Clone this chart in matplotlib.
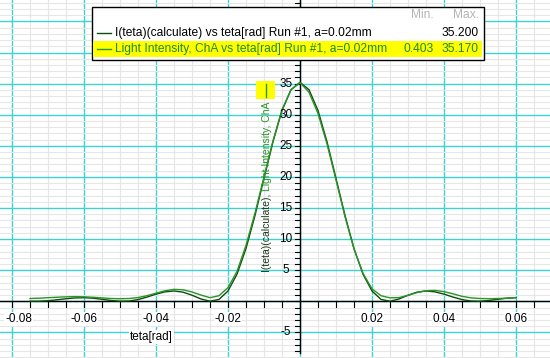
import numpy as np
import matplotlib
matplotlib.use("Agg")
import matplotlib.pyplot as plt
from matplotlib.patches import Rectangle
from matplotlib.lines import Line2D
from matplotlib.ticker import MultipleLocator

plt.rcParams['font.family'] = ['Liberation Sans', 'DejaVu Sans']

# ---------------- data ----------------
theta = np.round(np.arange(-30, 25) * 0.0025, 4)
calc_I = [0.01, 0.01, 0.09, 0.24, 0.41, 0.54, 0.58, 0.50, 0.33, 0.13,
          0.01, 0.04, 0.28, 0.68, 1.15, 1.52, 1.66, 1.47, 0.98, 0.37,
          0.01, 0.30, 1.66, 4.36, 8.49, 13.80, 19.77, 25.65, 30.67, 34.02,
          35.20,
          34.02, 30.67, 25.65, 19.77, 13.80, 8.49, 4.36, 1.66, 0.30,
          0.01, 0.37, 0.98, 1.47, 1.66, 1.52, 1.15, 0.68, 0.28, 0.04,
          0.01, 0.13, 0.33, 0.50, 0.58]
meas_I = [0.45, 0.50, 0.58, 0.65, 0.72, 0.75, 0.72, 0.65, 0.55, 0.45,
          0.41, 0.45, 0.60, 0.90, 1.30, 1.70, 1.92, 1.85, 1.50, 1.00,
          0.58, 0.90, 2.20, 4.80, 9.00, 14.20, 20.00, 25.80, 30.80, 34.00,
          35.17,
          33.60, 30.20, 25.30, 19.50, 13.60, 8.40, 4.50, 2.00, 0.90,
          0.55, 0.60, 0.95, 1.40, 1.70, 1.75, 1.55, 1.20, 0.80, 0.55,
          0.45, 0.42, 0.45, 0.50, 0.60]
xticks = [-0.08, -0.06, -0.04, -0.02, 0.02, 0.04, 0.06]
xtick_labels = ['-0.08', '-0.06', '-0.04', '-0.02', '0.02', '0.04', '0.06']
yticks = [-5, 5, 10, 15, 20, 25, 30, 35]
ytick_labels = ['-5', '5', '10', '15', '20', '25', '30', '35']
legend_names = ['I(teta)(calculate) vs teta[rad] Run #1, a=0.02mm',
                'Light Intensity, ChA vs teta[rad] Run #1, a=0.02mm']
legend_min = ['', '0.403']
legend_max = ['35.200', '35.170']
ylabel_parts = ['I(teta)(calculate), ', 'Light Intensity, ChA']

CALC_C = '#0b4d0b'
MEAS_C = '#2a942a'
CYAN = '#3fd2d2'
MINOR = '#e6e6e6'

W, H = 550, 358
fig = plt.figure(figsize=(W / 100, H / 100), dpi=100)
ax = fig.add_axes([0, 0, 1, 1])
ax.set_facecolor('white')

x0, sx = 300.0, 3600.0
y0, sy = 301.3, 6.22
ax.set_xlim((0 - x0) / sx, (W - x0) / sx)
ax.set_ylim((y0 - H) / sy, y0 / sy)

# grid
ax.xaxis.set_major_locator(MultipleLocator(0.02))
ax.xaxis.set_minor_locator(MultipleLocator(0.005))
ax.yaxis.set_major_locator(MultipleLocator(5))
ax.yaxis.set_minor_locator(MultipleLocator(1))
ax.grid(which='minor', color=MINOR, lw=0.8, zorder=0)
ax.grid(which='major', color=CYAN, lw=1.0, zorder=0.5)
ax.set_axisbelow(True)
ax.tick_params(which='both', length=0, labelbottom=False, labelleft=False)
for s in ax.spines.values():
    s.set_visible(False)

# axis lines
ax.axhline(0, color='black', lw=1.0, zorder=2)
ymin_axis = (y0 - 353) / sy
ax.plot([0, 0], [ymin_axis, y0 / sy], color='black', lw=1.0, zorder=2)

# tick marks
for xv in np.arange(-0.08, 0.0695, 0.005):
    ax.plot([xv, xv], [0, -6 / sy], color='black', lw=0.8, zorder=2)
for yv in np.arange(-8, 49, 1):
    ax.plot([0, -5 / sx], [yv, yv], color='black', lw=0.8, zorder=2)

# curves
ax.plot(theta, calc_I, color=CALC_C, lw=1.0, zorder=3)
ax.plot(theta, meas_I, color=MEAS_C, lw=1.0, zorder=3)

FS = 8.5
wb = dict(facecolor='white', edgecolor='none', pad=0.6)
for xv, lab in zip(xticks, xtick_labels):
    if xv == -0.08:
        ax.text((5 - x0) / sx, (y0 - 319) / sy, lab, ha='left', va='center',
                fontsize=FS, color='black', bbox=wb, zorder=4)
    else:
        ax.text(xv, (y0 - 319) / sy, lab, ha='center', va='center', fontsize=FS,
                color='black', bbox=wb, zorder=4)
for yv, lab in zip(yticks, ytick_labels):
    ax.text(-14 / sx, yv, lab, ha='center', va='center', fontsize=FS,
            color='black', zorder=4)

ax.text((151.6 - x0) / sx, (y0 - 337) / sy, 'teta[rad]', ha='center', va='center',
        fontsize=FS, color='black', bbox=wb, zorder=4)


def fx(px):
    return px / W


def fy(py):
    return 1 - py / H


fig.canvas.draw()
renderer = fig.canvas.get_renderer()

# y label in two colours, fitted to 170 px
t1 = fig.text(fx(267.5), fy(272), ylabel_parts[0], rotation=90,
              rotation_mode='anchor', ha='left', va='center', fontsize=FS,
              color='#1e3a1e', zorder=5)
t2 = fig.text(fx(267.5), fy(150), ylabel_parts[1], rotation=90,
              rotation_mode='anchor', ha='left', va='center', fontsize=FS,
              color=MEAS_C, zorder=5)
tot = t1.get_window_extent(renderer).height + t2.get_window_extent(renderer).height
yfs = FS * 170.0 / tot
t1.set_fontsize(yfs)
t2.set_fontsize(yfs)
bb = t1.get_window_extent(renderer)
t2.set_position((fx(267.5), bb.y1 / H))

fig.patches.append(Rectangle((fx(256), fy(99.3)), (275 - 256) / W, (99.3 - 81) / H,
                             transform=fig.transFigure, facecolor='#ffff00',
                             edgecolor='none', zorder=4))
fig.lines.append(Line2D([fx(265.7), fx(265.7)], [fy(96.7), fy(84.3)],
                        transform=fig.transFigure, color=MEAS_C, lw=1.0, zorder=5))

# legend box
fig.patches.append(Rectangle((fx(91.7), fy(60)), (484 - 91.7) / W, (60 - 6.7) / H,
                             transform=fig.transFigure, facecolor='white',
                             edgecolor='black', lw=1.0, zorder=6))
fig.patches.append(Rectangle((fx(93), fy(57.3)), (482 - 93) / W, (57.3 - 40.7) / H,
                             transform=fig.transFigure, facecolor='#ffff00',
                             edgecolor='none', zorder=6.5))
probe = fig.text(0, 0, legend_names[1], fontsize=9)
lw_px = probe.get_window_extent(renderer).width
probe.remove()
LFS = 9 * 273.0 / lw_px

fig.text(fx(434), fy(15.5), 'Min.', ha='right', va='center', fontsize=LFS,
         color='#b4b4b4', zorder=7)
fig.text(fx(479), fy(15.5), 'Max.', ha='right', va='center', fontsize=LFS,
         color='#b4b4b4', zorder=7)
row_y = [32.7, 49.3]
line_c = [CALC_C, MEAS_C]
text_c = ['black', '#1f8a1f']
for i in range(2):
    fig.lines.append(Line2D([fx(96.7), fx(110.7)], [fy(row_y[i]), fy(row_y[i])],
                            transform=fig.transFigure, color=line_c[i], lw=1.0,
                            zorder=7))
    fig.text(fx(115), fy(row_y[i]), legend_names[i], ha='left', va='center',
             fontsize=LFS, color=text_c[i], zorder=7)
    if legend_min[i]:
        fig.text(fx(434), fy(row_y[i]), legend_min[i], ha='right', va='center',
                 fontsize=LFS, color=text_c[i], zorder=7)
    fig.text(fx(479), fy(row_y[i]), legend_max[i], ha='right', va='center',
             fontsize=LFS, color=text_c[i], zorder=7)

fig.savefig('out.png', dpi=100)
